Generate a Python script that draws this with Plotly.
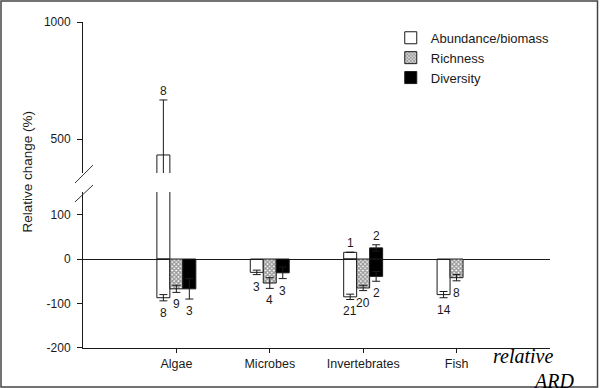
import plotly.graph_objects as go

# ---------------- data ----------------
categories = ["Algae", "Microbes", "Invertebrates", "Fish"]
cat_index = [1, 2, 3, 4]

abund_neg = [-87, -30, -85, -80]
abund_neg_err = [7, 5, 6, 7]
abund_neg_n = ["8", "3", "21", "14"]

abund_pos = [432, None, 15, None]
abund_pos_err = [235, 0, 0, 0]
abund_pos_n = ["8", "", "1", ""]

rich_neg = [-67, -54, -65, -42]
rich_neg_err = [8, 12, 6, 7]
rich_neg_n = ["9", "4", "20", "8"]

div_neg = [-67, -31, -39, None]
div_neg_err = [23, 13, 11, 0]
div_neg_n = ["3", "3", "2", ""]

div_pos = [None, None, 25, None]
div_pos_err = [0, 0, 7, 0]
div_pos_n = ["", "", "2", ""]

lower_ticks = [-200, -100, 0, 100]
upper_ticks = [500, 1000]

LOWER_RANGE = [-200, 150.6]
UPPER_RANGE = [355, 1000]

# ---------------- style ----------------
BAR_W = 0.139
OFFS = {"abund": -0.209, "rich": -0.07, "div": 0.069}
FONT = "Liberation Sans, Arial, sans-serif"
SERIF = "Liberation Serif, Times New Roman, serif"
INK = "#1a1a1a"

abund_marker = dict(color="rgba(0,0,0,0)", line=dict(color=INK, width=1))
rich_marker = dict(color="white", line=dict(color=INK, width=1),
                   pattern=dict(shape="x", fgcolor="#333", bgcolor="white",
                                size=3, solidity=0.7))
div_marker = dict(color="black", line=dict(color=INK, width=1))


def err(arr):
    return dict(type="data", array=arr, symmetric=True, color=INK,
                thickness=1, width=4)


fig = go.Figure()


def add_bar(vals, errs, key, marker, name, yaxis, showlegend):
    fig.add_trace(go.Bar(
        x=cat_index, y=vals, width=BAR_W, offset=OFFS[key],
        marker=marker, error_y=err(errs), name=name,
        showlegend=showlegend, legendgroup=key, yaxis=yaxis,
        hoverinfo="skip"))


def add_labels(key, vals, errs, texts, sign):
    for i, v, e, t in zip(cat_index, vals, errs, texts):
        if v is None or not t:
            continue
        yv = v + sign * (e or 0)
        yref = "y2" if yv >= UPPER_RANGE[0] else "y"
        fig.add_annotation(
            x=i + OFFS[key] + BAR_W / 2, y=yv, xref="x", yref=yref,
            text=t, showarrow=False, xanchor="center", yanchor="middle",
            yshift=9 if sign > 0 else -12,
            font=dict(family=FONT, size=12, color=INK))


# lower (broken) panel
add_bar(abund_neg, abund_neg_err, "abund", abund_marker, "Abundance/biomass", "y", True)
add_bar(abund_pos, abund_pos_err, "abund", abund_marker, "Abundance/biomass", "y", False)
add_bar(rich_neg, rich_neg_err, "rich", rich_marker, "Richness", "y", True)
add_bar(div_neg, div_neg_err, "div", div_marker, "Diversity", "y", True)
add_bar(div_pos, div_pos_err, "div", div_marker, "Diversity", "y", False)
# upper panel (only the large positive value falls in its range)
add_bar(abund_pos, abund_pos_err, "abund", abund_marker, "Abundance/biomass", "y2", False)

add_labels("abund", abund_neg, abund_neg_err, abund_neg_n, -1)
add_labels("rich", rich_neg, rich_neg_err, rich_neg_n, -1)
add_labels("div", div_neg, div_neg_err, div_neg_n, -1)
add_labels("abund", abund_pos, abund_pos_err, abund_pos_n, 1)
add_labels("div", div_pos, div_pos_err, div_pos_n, 1)

axis_common = dict(showline=True, linecolor=INK, linewidth=1, ticks="outside",
                   tickcolor=INK, showgrid=False,
                   tickfont=dict(family=FONT, size=12, color=INK))

fig.update_layout(
    width=600, height=388,
    margin=dict(l=83, r=50, t=22, b=40),
    paper_bgcolor="white", plot_bgcolor="white",
    barmode="overlay",
    font=dict(family=FONT, color=INK),
    xaxis=dict(range=[0, 5], tickvals=cat_index, ticktext=categories,
               ticklen=4, zeroline=False, anchor="y",
               **{k: v for k, v in axis_common.items() if k != "tickfont"},
               tickfont=dict(family=FONT, size=12.5, color=INK)),
    yaxis=dict(domain=[0, 0.4785], range=LOWER_RANGE, tickvals=lower_ticks,
               ticktext=[str(v) for v in lower_ticks], ticklabelstandoff=4,
               ticklen=5, zeroline=True, zerolinecolor=INK, zerolinewidth=1,
               **axis_common),
    yaxis2=dict(domain=[0.5368, 1], range=UPPER_RANGE, tickvals=upper_ticks,
                ticktext=[str(v) for v in upper_ticks], ticklabelstandoff=4,
                ticklen=5, zeroline=False, anchor="x", **axis_common),
    legend=dict(x=0.659, y=0.9975, xanchor="left", yanchor="top",
                bgcolor="rgba(0,0,0,0)", itemwidth=30,
                font=dict(family=FONT, size=13, color=INK),
                tracegroupgap=0),
    showlegend=True,
)

# y-axis title (spans both panels)
fig.add_annotation(text="Relative change (%)", xref="paper", yref="paper",
                   x=-0.118, y=0.541, textangle=-90, showarrow=False,
                   xanchor="center", yanchor="middle",
                   font=dict(family=FONT, size=13.5, color=INK))

# axis break marks
for y0, y1 in [(0.506, 0.561), (0.448, 0.500)]:
    fig.add_shape(type="line", xref="paper", yref="paper",
                  x0=-0.0171, x1=0.0214, y0=y0, y1=y1,
                  line=dict(color="#333", width=1))

# outer frame
fig.add_shape(type="rect", xref="paper", yref="paper",
              x0=(1 - 83) / 467, x1=(597.5 - 83) / 467,
              y0=(348 - 387) / 326, y1=(348 - 1) / 326,
              line=dict(color="#444", width=1.5), layer="above")

# stray caption text at lower right
fig.add_annotation(text="<i>relative</i>", xref="paper", yref="paper",
                   x=(523 - 83) / 467, y=(348 - 356) / 326, showarrow=False,
                   xanchor="center", yanchor="middle",
                   font=dict(family=SERIF, size=20, color="black"))
fig.add_annotation(text="<i>ARD</i>", xref="paper", yref="paper",
                   x=(553 - 83) / 467, y=(348 - 381) / 326, showarrow=False,
                   xanchor="center", yanchor="middle",
                   font=dict(family=SERIF, size=20, color="black"))

fig.write_html("out.html",
               config={"displayModeBar": False},
               post_script="document.body.style.margin='0px';"
                           "document.body.style.overflow='hidden';")
